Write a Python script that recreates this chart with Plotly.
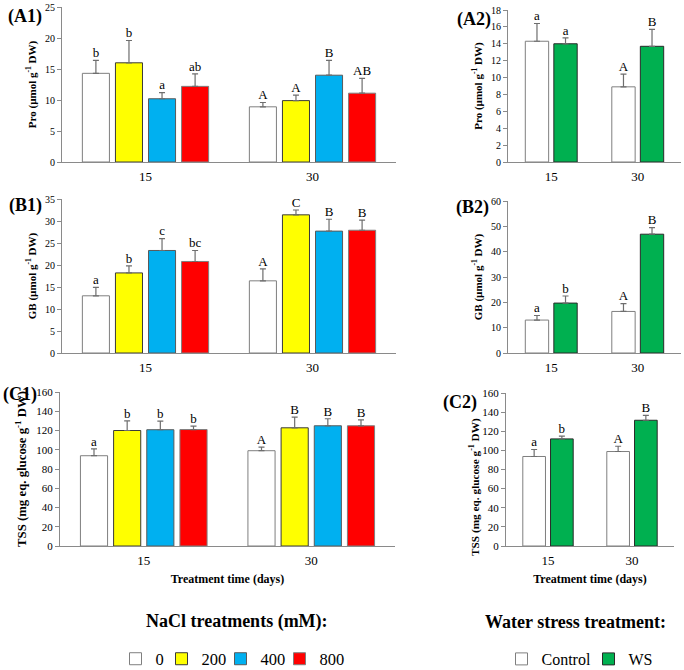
import plotly.graph_objects as go

# ---------------- data ----------------
days = ["15", "30"]
nacl_levels = ["0", "200", "400", "800"]
ws_levels = ["Control", "WS"]

# (A1) Pro, NaCl  -> one list per treatment, values for day 15 and day 30
pro_nacl_mean = [[14.3, 8.9], [16.0, 9.9], [10.2, 14.0], [12.2, 11.1]]
pro_nacl_err = [[2.1, 0.7], [3.6, 0.9], [1.0, 2.4], [2.0, 2.4]]
pro_nacl_letters = [["b", "A"], ["b", "A"], ["a", "B"], ["ab", "AB"]]

# (A2) Pro, water stress
pro_ws_mean = [[14.3, 8.9], [14.0, 13.7]]
pro_ws_err = [[2.1, 1.5], [0.7, 2.0]]
pro_ws_letters = [["a", "A"], ["a", "B"]]

# (B1) GB, NaCl
gb_nacl_mean = [[13.0, 16.4], [18.2, 31.4], [23.3, 27.7], [20.8, 27.9]]
gb_nacl_err = [[1.9, 2.7], [1.6, 1.1], [2.7, 2.7], [2.5, 2.3]]
gb_nacl_letters = [["a", "A"], ["b", "C"], ["c", "B"], ["bc", "B"]]

# (B2) GB, water stress
gb_ws_mean = [[13.0, 16.4], [19.7, 46.9]]
gb_ws_err = [[1.8, 3.1], [2.8, 2.6]]
gb_ws_letters = [["a", "A"], ["b", "B"]]

# (C1) TSS, NaCl
tss_nacl_mean = [[93.8, 99.0], [120.0, 122.8], [120.8, 124.9], [121.0, 124.9]]
tss_nacl_err = [[7.2, 3.8], [10.0, 11.1], [9.0, 7.3], [3.6, 6.1]]
tss_nacl_letters = [["a", "A"], ["b", "B"], ["b", "B"], ["b", "B"]]

# (C2) TSS, water stress
tss_ws_mean = [[93.6, 98.8], [112.0, 131.5]]
tss_ws_err = [[7.3, 5.5], [2.8, 5.2]]
tss_ws_letters = [["a", "A"], ["b", "B"]]

y_titles = [
    "<b>Pro (µmol g<sup>-1</sup> DW)</b>",
    "<b>GB (µmol g<sup>-1</sup> DW)</b>",
    "<b>TSS (mg eq. glucose g<sup>-1</sup> DW)</b>",
]

# ---------------- styling ----------------
W, H = 684, 670
FONT = "Liberation Serif, Times New Roman, serif"
AXIS_COL = "#8a8a8a"
nacl_fill = ["#FFFFFF", "#FFFF00", "#00B0F0", "#FF0000"]
nacl_line = ["#7f7f7f", "#3a3a3a", "#5a5a5a", "#7f7f7f"]
nacl_legw = [1, 14, 14, 26]
ws_fill = ["#FFFFFF", "#00B050"]
ws_line = ["#7f7f7f", "#2a2a2a"]
ws_legw = [42, 25]
LEFT_SLOT, LEFT_W = 0.198, 0.162
RIGHT_SLOT, RIGHT_W = 0.33, 0.27


def xd(a, b):
    return [a / W, b / W]


def yd(top, bottom):
    return [1 - bottom / H, 1 - top / H]


fig = go.Figure()


def add_panel(k, means, errs, letters, names, fills, lines, legws, slot,
              width, legend, showlegend):
    n = len(means)
    for i in range(n):
        xs = [d + (i - (n - 1) / 2) * slot for d in range(len(days))]
        fig.add_trace(go.Bar(
            x=xs, y=means[i], width=width, name=names[i],
            marker=dict(color=fills[i], line=dict(color=lines[i], width=1)),
            error_y=dict(type="data", array=errs[i],
                         arrayminus=[0] * len(errs[i]), symmetric=False,
                         color="#6e6e6e", thickness=1.2, width=3),
            xaxis=f"x{k}", yaxis=f"y{k}", legend=legend,
            showlegend=showlegend, legendgroup=names[i],
            legendwidth=legws[i],
        ))
        tops = [m + e for m, e in zip(means[i], errs[i])]
        fig.add_trace(go.Scatter(
            x=xs, y=tops, mode="text", text=letters[i],
            textposition="top center",
            textfont=dict(family=FONT, size=13, color="black"),
            xaxis=f"x{k}", yaxis=f"y{k}", showlegend=False,
            hoverinfo="skip", cliponaxis=False,
        ))


add_panel(1, pro_nacl_mean, pro_nacl_err, pro_nacl_letters, nacl_levels,
          nacl_fill, nacl_line, nacl_legw, LEFT_SLOT, LEFT_W, "legend", True)
add_panel(2, pro_ws_mean, pro_ws_err, pro_ws_letters, ws_levels,
          ws_fill, ws_line, ws_legw, RIGHT_SLOT, RIGHT_W, "legend2", True)
add_panel(3, gb_nacl_mean, gb_nacl_err, gb_nacl_letters, nacl_levels,
          nacl_fill, nacl_line, nacl_legw, LEFT_SLOT, LEFT_W, "legend", False)
add_panel(4, gb_ws_mean, gb_ws_err, gb_ws_letters, ws_levels,
          ws_fill, ws_line, ws_legw, RIGHT_SLOT, RIGHT_W, "legend2", False)
add_panel(5, tss_nacl_mean, tss_nacl_err, tss_nacl_letters, nacl_levels,
          nacl_fill, nacl_line, nacl_legw, LEFT_SLOT, LEFT_W, "legend", False)
add_panel(6, tss_ws_mean, tss_ws_err, tss_ws_letters, ws_levels,
          ws_fill, ws_line, ws_legw, RIGHT_SLOT, RIGHT_W, "legend2", False)

x_domains = [xd(62, 396), xd(508, 681), xd(62, 396), xd(508, 681),
             xd(60, 395), xd(506, 674)]
y_domains = [yd(7, 162), yd(10, 162), yd(199, 353), yd(201, 353),
             yd(392, 546), yd(393, 546)]
y_ranges = [[0, 25], [0, 18], [0, 35], [0, 60], [0, 160], [0, 160]]
y_dticks = [5, 2, 5, 10, 20, 20]
ytick_sizes = [10, 10, 10, 10, 11, 11]
ytitle_sizes = [11, 11, 11, 11, 12.8, 11.3]

layout = dict(
    width=W, height=H, margin=dict(l=0, r=0, t=0, b=0, autoexpand=False),
    paper_bgcolor="white", plot_bgcolor="white",
    font=dict(family=FONT, color="black"),
    barmode="overlay",
)
for k in range(1, 7):
    xa = dict(domain=x_domains[k - 1], anchor=f"y{k}", range=[-0.5, 1.5],
              tickvals=list(range(len(days))), ticktext=days,
              showline=True, linecolor=AXIS_COL, linewidth=1,
              ticks="", showgrid=False, zeroline=False,
              tickfont=dict(family=FONT, size=13, color="black"),
              ticklabelstandoff=2, fixedrange=True)
    if k in (5, 6):
        xa["title"] = dict(text="<b>Treatment time (days)</b>",
                           font=dict(family=FONT, size=12, color="black"),
                           standoff=8)
    ya = dict(domain=y_domains[k - 1], anchor=f"x{k}", range=y_ranges[k - 1],
              dtick=y_dticks[k - 1], showline=True, linecolor=AXIS_COL,
              linewidth=1, ticks="outside", ticklen=4, tickcolor=AXIS_COL,
              showgrid=False, zeroline=False,
              tickfont=dict(family=FONT, size=ytick_sizes[k - 1],
                            color="black"),
              fixedrange=True)
    if k != 6:
        ya["title"] = dict(text=y_titles[(k - 1) // 2],
                           font=dict(family=FONT, size=ytitle_sizes[k - 1],
                                     color="black"),
                           standoff=6)
    sfx = "" if k == 1 else str(k)
    layout["xaxis" + sfx] = xa
    layout["yaxis" + sfx] = ya

layout["legend"] = dict(orientation="h", x=233 / W, xanchor="center",
                        y=1 - 659 / H, yanchor="middle",
                        font=dict(family=FONT, size=16.5, color="black"),
                        itemwidth=30, bgcolor="rgba(0,0,0,0)")
layout["legend2"] = dict(orientation="h", x=580 / W, xanchor="center",
                         y=1 - 659 / H, yanchor="middle",
                         font=dict(family=FONT, size=16, color="black"),
                         itemwidth=30, bgcolor="rgba(0,0,0,0)")

panel_labels = [("(A1)", 25, 17), ("(A2)", 474, 19), ("(B1)", 25, 206),
                ("(B2)", 472, 207), ("(C1)", 20, 394), ("(C2)", 460, 402)]
annotations = []
for txt, px, py in panel_labels:
    annotations.append(dict(text=f"<b>{txt}</b>", x=px / W, y=1 - py / H,
                            xref="paper", yref="paper", showarrow=False,
                            xanchor="center", yanchor="middle",
                            font=dict(family=FONT, size=18, color="black")))
# y title of panel C2 (sits lower than the plot centre in the original)
annotations.append(dict(text=y_titles[2], textangle=-90, x=474 / W,
                        y=1 - 487 / H, xref="paper", yref="paper",
                        showarrow=False, xanchor="center", yanchor="middle",
                        font=dict(family=FONT, size=ytitle_sizes[5],
                                  color="black")))
annotations.append(dict(text="<b>NaCl treatments (mM):</b>", x=237 / W,
                        y=1 - 621 / H, xref="paper", yref="paper",
                        showarrow=False, xanchor="center", yanchor="middle",
                        font=dict(family=FONT, size=18, color="black")))
annotations.append(dict(text="<b>Water stress treatment:</b>", x=575 / W,
                        y=1 - 622 / H, xref="paper", yref="paper",
                        showarrow=False, xanchor="center", yanchor="middle",
                        font=dict(family=FONT, size=18, color="black")))
layout["annotations"] = annotations

fig.update_layout(**layout)
fig.write_html("out.html", config={"displayModeBar": False},
               post_script="document.body.style.margin='0';")
